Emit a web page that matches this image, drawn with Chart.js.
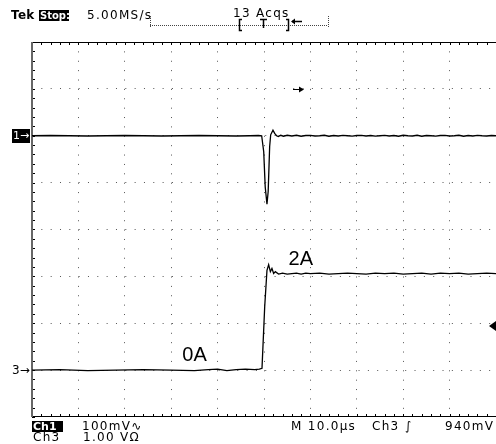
<!DOCTYPE html>
<html>
<head>
<meta charset="utf-8">
<script src="https://cdn.jsdelivr.net/npm/chart.js@4"></script>
<style>
  html, body { margin: 0; background: #fff; }
  canvas { display: block; }
</style>
</head>
<body>
<canvas id="scope" width="496" height="444"></canvas>
<script>
// Ch1 - voltage trace, time in µs (trigger at 0), values in mV
const ch1Time = [-50, -46, -42, -38, -34, -30, -26, -22, -18, -14, -10, -6, -3, -1.2, -0.5,
  -0.06, 0.26, 0.64, 0.9, 1.22, 1.44, 1.93, 2.3, 2.7, 3.1, 3.6, 4.2,
  5, 6, 7, 8, 9, 10, 11, 12, 13, 14, 15, 16, 17, 18, 19, 20, 21, 22, 23, 24, 25, 26, 27,
  28, 29, 30, 31, 32, 33, 34, 35, 36, 37, 38, 39, 40, 41, 42, 43, 44, 45, 46, 47, 48, 49, 50];
const ch1mV = [0, 0.5, 0, -0.5, 0, 0.5, 0, -0.5, 0, 0.5, 0, -0.5, 0, 0.5, 0,
  -34, -109, -146, -119, -23, 2, 12, 5, 0, -1.5, 1, -1,
  1, -0.5, 1, -1, 0.5, 1, -0.5, 0, 1, -1, 0.5, -0.5, 1, 0, -1, 0.5, 1, -0.5, 0.5, -1, 0, 1, -0.5,
  0.5, -1, 1, 0, -0.5, 1, -1, 0.5, 0, -1, 0.5, 1, -0.5, 0, 1, -1, 0.5, -0.5, 1, 0, -0.5, 0.5, 0];

// Ch3 - current probe (1 V = 1 A), values in V
const ch3Time = [-50, -44, -38, -32, -26, -20, -15, -12, -10, -8, -6, -4, -2, -1,
  -0.43, 0.15, 0.64, 1.0, 1.37, 1.71, 2.08, 2.44, 3.15,
  4, 5, 6, 7, 8, 9, 10,
  12, 14, 16, 18, 20, 22, 24, 26, 28, 30, 32, 34, 36, 38, 40, 42, 44, 46, 48, 50];
const ch3V = [0, 0.01, -0.01, 0, 0.01, 0, -0.01, 0.01, 0.02, -0.01, 0.01, 0.02, 0.01, 0.02,
  0.04, 1.35, 2.13, 2.25, 2.10, 2.17, 2.06, 2.10, 2.05,
  2.07, 2.05, 2.06, 2.07, 2.05, 2.07, 2.06,
  2.07, 2.05, 2.06, 2.07, 2.06, 2.05, 2.07, 2.06, 2.07, 2.05, 2.06, 2.07, 2.05, 2.07, 2.06,
  2.07, 2.05, 2.06, 2.07, 2.06];

// scope settings
const ch1Scale = 100;   // mV/div
const ch1Pos = 2;       // div
const ch3Scale = 1;     // V/div
const ch3Pos = -3;      // div
const trigLevel = 0.94; // V on Ch3

const ch1Points = ch1Time.map((t, i) => ({ x: t, y: ch1Pos + ch1mV[i] / ch1Scale }));
const ch3Points = ch3Time.map((t, i) => ({ x: t, y: ch3Pos + ch3V[i] / ch3Scale }));

const font = size => size + 'px "DejaVu Sans", sans-serif';

function inverseLabel(ctx, text, x, y, w, h) {
    ctx.fillStyle = '#000';
    ctx.fillRect(x, y, w, h);
    ctx.fillStyle = '#fff';
    ctx.fillText(text, x + 1, y + h / 2 + 0.5);
}

const scopeFrame = {
    id: 'scopeFrame',
    beforeDatasetsDraw(chart) {
        const { ctx, chartArea: a, scales: { x, y } } = chart;
        ctx.save();
        ctx.strokeStyle = '#000';
        ctx.lineWidth = 1;
        ctx.beginPath();
        ctx.moveTo(a.left, a.top + 0.5); ctx.lineTo(a.right, a.top + 0.5);
        ctx.moveTo(a.left, a.bottom - 0.5); ctx.lineTo(a.right, a.bottom - 0.5);
        // minor ticks, 5 per division
        for (let v = x.min; v <= x.max; v += 2) {
            const px = Math.round(x.getPixelForValue(v)) + 0.5;
            ctx.moveTo(px, a.top); ctx.lineTo(px, a.top + 3);
            ctx.moveTo(px, a.bottom); ctx.lineTo(px, a.bottom - 3);
        }
        for (let v = y.min; v <= y.max + 0.01; v += 0.2) {
            const py = Math.round(y.getPixelForValue(v)) + 0.5;
            ctx.moveTo(a.left, py); ctx.lineTo(a.left + 3, py);
        }
        ctx.stroke();
        ctx.fillStyle = '#666';
        ctx.fillRect(a.left - 1, a.top, 2, a.bottom - a.top);
        ctx.restore();
    },
    afterDraw(chart) {
        const { ctx, chartArea: a, scales: { x, y } } = chart;
        ctx.save();
        ctx.textBaseline = 'middle';

        // header
        ctx.font = 'bold ' + font(12);
        ctx.fillStyle = '#000';
        ctx.letterSpacing = '0.3px';
        ctx.fillText('Tek', 11, 16);
        ctx.letterSpacing = '0px';
        ctx.font = 'bold ' + font(10);
        inverseLabel(ctx, 'Stop:', 39, 10, 30, 11);
        ctx.letterSpacing = '1.3px';
        ctx.font = font(12);
        ctx.fillStyle = '#000';
        ctx.fillText('5.00MS/s', 87, 16);
        ctx.fillText('13 Acqs', 233, 14);

        // record bar
        ctx.strokeStyle = '#444';
        ctx.lineWidth = 1;
        ctx.setLineDash([1, 1]);
        ctx.beginPath();
        ctx.moveTo(150, 25.5); ctx.lineTo(328, 25.5);
        ctx.moveTo(150.5, 16); ctx.lineTo(150.5, 28);
        ctx.moveTo(328.5, 16); ctx.lineTo(328.5, 28);
        ctx.stroke();
        ctx.setLineDash([]);
        ctx.strokeStyle = '#000';
        ctx.lineWidth = 1.5;
        ctx.beginPath();
        // brackets
        ctx.moveTo(242, 19.5); ctx.lineTo(239.5, 19.5); ctx.lineTo(239.5, 30.5); ctx.lineTo(242, 30.5);
        ctx.moveTo(286, 19.5); ctx.lineTo(288.5, 19.5); ctx.lineTo(288.5, 30.5); ctx.lineTo(286, 30.5);
        // trigger position T
        ctx.moveTo(260, 19.5); ctx.lineTo(267, 19.5);
        ctx.moveTo(263.5, 19.5); ctx.lineTo(263.5, 28);
        // arrow
        ctx.moveTo(292, 21.5); ctx.lineTo(302, 21.5);
        ctx.stroke();
        ctx.lineWidth = 1;
        ctx.beginPath();
        ctx.moveTo(291, 21.5); ctx.lineTo(295, 18.5); ctx.lineTo(295, 24.5); ctx.closePath();
        ctx.fillStyle = '#000';
        ctx.fill();

        // channel markers
        ctx.font = font(11);
        ctx.letterSpacing = '0px';
        const y1 = Math.round(y.getPixelForValue(ch1Pos));
        inverseLabel(ctx, '1\u2192', 12, y1 - 7, 18, 14);
        const y3 = Math.round(y.getPixelForValue(ch3Pos));
        ctx.fillStyle = '#000';
        ctx.font = font(12);
        ctx.fillText('3\u2192', 12, y3 + 0.5);

        // trigger level marker on right edge
        const yt = y.getPixelForValue(ch3Pos + trigLevel / ch3Scale);
        ctx.beginPath();
        ctx.moveTo(489, yt); ctx.lineTo(496, yt - 5); ctx.lineTo(496, yt + 5); ctx.closePath();
        ctx.fill();

        // small arrow marker
        const ya = Math.round(y.getPixelForValue(3)) + 0.5;
        ctx.beginPath();
        ctx.moveTo(293, ya); ctx.lineTo(300, ya);
        ctx.stroke();
        ctx.beginPath();
        ctx.moveTo(304, ya); ctx.lineTo(299, ya - 3); ctx.lineTo(299, ya + 3); ctx.closePath();
        ctx.fill();

        // annotations
        ctx.font = '20px "Liberation Sans", Arial, sans-serif';
        ctx.textBaseline = 'alphabetic';
        ctx.fillText('0A', x.getPixelForValue(-17.6), y.getPixelForValue(-2.8));
        ctx.fillText('2A', x.getPixelForValue(5.3), y.getPixelForValue(-0.75));

        // footer
        ctx.textBaseline = 'middle';
        ctx.font = 'bold ' + font(11);
        inverseLabel(ctx, 'Ch1', 32, 421, 31, 11);
        ctx.fillStyle = '#000';
        ctx.font = font(12);
        ctx.letterSpacing = '1.3px';
        ctx.fillText('100mV\u223F', 82, 427);
        ctx.fillText('M 10.0\u00B5s', 291, 427);
        ctx.fillText('Ch3 \u222B', 372, 427);
        ctx.fillText('940mV', 445, 427);
        ctx.fillText('Ch3', 33, 438);
        ctx.fillText('1.00 V\u03A9', 83, 438);
        ctx.restore();
    }
};

const edgeColor = c => (c.tick && (c.tick.value === c.scale.min || c.tick.value === c.scale.max)) ? 'rgba(0,0,0,0)' : '#555';

new Chart(document.getElementById('scope').getContext('2d'), {
    type: 'scatter',
    data: {
        datasets: [{
            label: 'Ch1',
            data: ch1Points,
            showLine: true,
            borderColor: '#000',
            borderWidth: 1.3,
            pointRadius: 0,
            tension: 0
        }, {
            label: 'Ch3',
            data: ch3Points,
            showLine: true,
            borderColor: '#000',
            borderWidth: 1.3,
            pointRadius: 0,
            tension: 0
        }]
    },
    options: {
        responsive: false,
        animation: false,
        devicePixelRatio: 1,
        layout: { padding: { left: 32, top: 42, right: -3, bottom: 27 } },
        scales: {
            x: {
                type: 'linear',
                min: -50,
                max: 50,
                ticks: { display: false, stepSize: 10 },
                grid: { color: edgeColor, lineWidth: 1, drawTicks: false },
                border: { display: false, dash: [1, 8.38] },
                afterFit: s => { s.height = 0; }
            },
            y: {
                min: -4,
                max: 4,
                ticks: { display: false, stepSize: 1 },
                grid: { color: edgeColor, lineWidth: 1, drawTicks: false },
                border: { display: false, dash: [1, 8.33] },
                afterFit: s => { s.width = 0; }
            }
        },
        plugins: {
            legend: { display: false },
            tooltip: { enabled: false }
        }
    },
    plugins: [scopeFrame]
});
</script>
</body>
</html>
